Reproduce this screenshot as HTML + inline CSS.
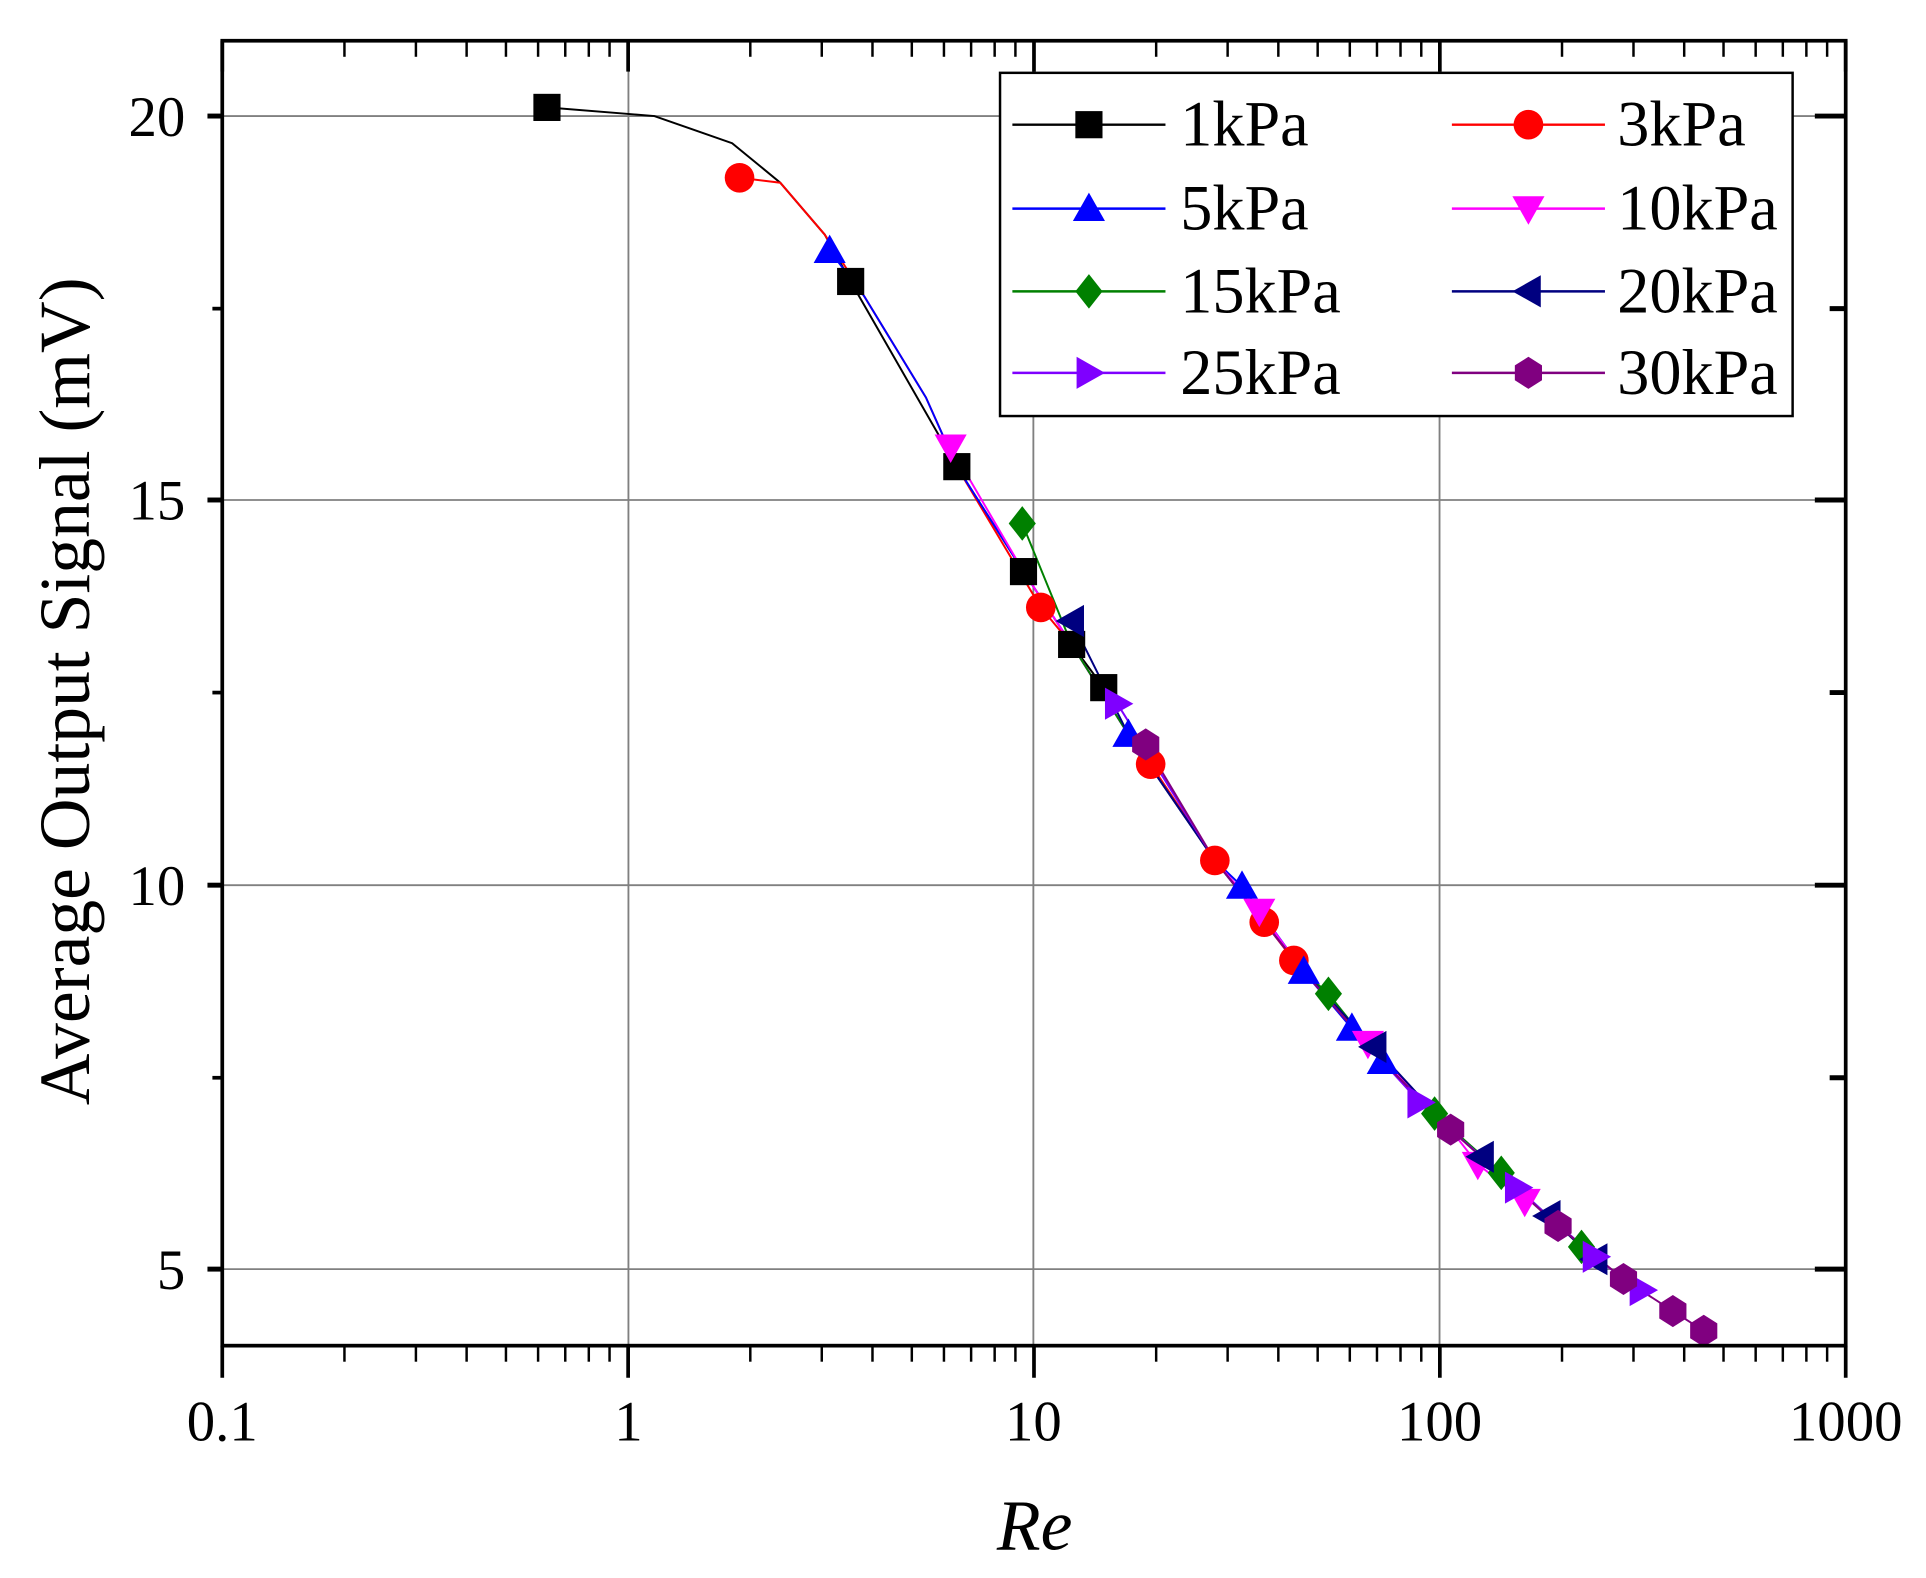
<!DOCTYPE html>
<html><head><meta charset="utf-8"><style>
html,body{margin:0;padding:0;background:#fff;}
svg{display:block;}
text{font-family:"Liberation Serif","Times New Roman",serif;fill:#000;}
</style></head><body>
<svg id="s" width="1926" height="1578" viewBox="0 0 1560 1278.2" xmlns="http://www.w3.org/2000/svg">
<g id="grid" stroke="#808080" stroke-width="1.5">
<line x1="509" y1="33" x2="509" y2="1090"/><line x1="837" y1="33" x2="837" y2="1090"/><line x1="1166" y1="33" x2="1166" y2="1090"/>
<line x1="180" y1="94" x2="1495" y2="94"/><line x1="180" y1="405" x2="1495" y2="405"/><line x1="180" y1="717" x2="1495" y2="717"/><line x1="180" y1="1028" x2="1495" y2="1028"/>
</g>
<g id="ticks" stroke="#000" stroke-width="3"></g>
<g id="series"></g>
<rect x="180" y="33" width="1315" height="1057" fill="none" stroke="#000" stroke-width="3"/>
<g font-size="46">
<text x="150" y="110" text-anchor="end">20</text>
<text x="150" y="421" text-anchor="end">15</text>
<text x="150" y="733" text-anchor="end">10</text>
<text x="150" y="1044" text-anchor="end">5</text>
<text x="180" y="1167" text-anchor="middle">0.1</text>
<text x="509" y="1167" text-anchor="middle">1</text>
<text x="837" y="1167" text-anchor="middle">10</text>
<text x="1166" y="1167" text-anchor="middle">100</text>
<text x="1495" y="1167" text-anchor="middle">1000</text>
</g>
<text x="838" y="1255" font-size="58" font-style="italic" text-anchor="middle">Re</text>
<text transform="translate(72,560) rotate(-90)" font-size="58" text-anchor="middle">Average Output Signal (mV)</text>
<rect x="810" y="59" width="642" height="278" fill="#fff" stroke="#000" stroke-width="2"/>
<g id="legend" font-size="52"></g>
</svg>
<script>
var NS="http://www.w3.org/2000/svg";
function el(p,t,a){var e=document.createElementNS(NS,t);for(var k in a)e.setAttribute(k,a[k]);p.appendChild(e);return e;}
var tk=document.getElementById('ticks');
for(var d=0;d<4;d++){for(var m=2;m<10;m++){var x=180+328.75*(d+Math.log10(m));
el(tk,'line',{x1:x,y1:1090,x2:x,y2:1103,'stroke-width':2});el(tk,'line',{x1:x,y1:33,x2:x,y2:46,'stroke-width':2});}}
for(var d=0;d<=4;d++){var x=180+328.75*d;el(tk,'line',{x1:x,y1:1090,x2:x,y2:1116});el(tk,'line',{x1:x,y1:33,x2:x,y2:58});}
[94,405,717,1028].forEach(function(y){el(tk,'line',{x1:1495,y1:y,x2:1470,y2:y,'stroke-width':4});el(tk,'line',{x1:180,y1:y,x2:168,y2:y,'stroke-width':4});});
[250,561,873].forEach(function(y){el(tk,'line',{x1:1495,y1:y,x2:1482,y2:y,'stroke-width':4});el(tk,'line',{x1:180,y1:y,x2:172,y2:y,'stroke-width':3});});
var master=[[530,94],[593,116],[632,148],[668,190],[700,240],[750,322],[775,378],[829,463],[868,522],[914,595],[984,697],[1056,787],[1120,860],[1175,915],[1254,985],[1315,1036],[1380,1078]];
var S=[
{n:'1kPa',c:'#000',m:'sq',p:[[443,87],[530,94],[593,116],[632,148],[668,190],[689,228],[775,378],[829,463],[868,522],[894,557]],raw:1},
{n:'3kPa',c:'#f00',m:'ci',p:[[599,144],[843,492],[932,619],[984,697],[1024,747],[1048,778]]},
{n:'5kPa',c:'#00f',m:'up',p:[[672,203],[914,595],[1006,718],[1056,787],[1095,833],[1120,860]]},
{n:'10kPa',c:'#f0f',m:'dn',p:[[770,362],[1020,738],[1108,845],[1197,943],[1235,973]]},
{n:'15kPa',c:'#008000',m:'di',p:[[828,424],[1076,805],[1162,902],[1216,950],[1281,1010]]},
{n:'20kPa',c:'#000080',m:'lt',p:[[868,503],[1113,848],[1200,937],[1254,985],[1292,1020]]},
{n:'25kPa',c:'#7f00ff',m:'rt',p:[[905,570],[1150,893],[1229,962],[1292,1018],[1330,1045]]},
{n:'30kPa',c:'#800080',m:'hx',p:[[928,603],[1175,915],[1262,993],[1315,1036],[1355,1062],[1380,1078]]}];
function mk(g,t,x,y,c){var r=11;
if(t=='sq')el(g,'rect',{x:x-r,y:y-r,width:2*r,height:2*r,fill:c});
else if(t=='ci')el(g,'circle',{cx:x,cy:y,r:r+1,fill:c});
else{var pts;
if(t=='up')pts=[[0,-13],[13,10],[-13,10]];
if(t=='dn')pts=[[0,13],[13,-10],[-13,-10]];
if(t=='lt')pts=[[-13,0],[10,-13],[10,13]];
if(t=='rt')pts=[[13,0],[-10,-13],[-10,13]];
if(t=='di')pts=[[0,-14],[11,0],[0,14],[-11,0]];
if(t=='hx')pts=[[0,-13],[11,-6],[11,6],[0,13],[-11,6],[-11,-6]];
el(g,'polygon',{points:pts.map(function(q){return (x+q[0])+','+(y+q[1]);}).join(' '),fill:c});}}
var sg=document.getElementById('series');
S.forEach(function(s){var pts=s.p.slice();
if(!s.raw){var a=pts[0][0],b=pts[pts.length-1][0];master.forEach(function(q){if(q[0]>a+5&&q[0]<b-5&&!pts.some(function(z){return Math.abs(z[0]-q[0])<15;}))pts.push(q);});pts.sort(function(u,v){return u[0]-v[0];});}
el(sg,'polyline',{points:pts.map(function(q){return q.join(',');}).join(' '),fill:'none',stroke:s.c,'stroke-width':1.6});});
S.forEach(function(s){var pts=s.p;if(s.raw)pts=[s.p[0]].concat(s.p.slice(5));pts.forEach(function(q){mk(sg,s.m,q[0],q[1],s.c);});});
var lg=document.getElementById('legend');
S.forEach(function(s,i){var col=i%2,row=Math.floor(i/2);var y=[101,169,236,302][row];
var x0=col?1176:820;el(lg,'line',{x1:x0,y1:y,x2:x0+124,y2:y,stroke:s.c,'stroke-width':2});mk(lg,s.m,x0+62,y,s.c);
var t=el(lg,'text',{x:col?1310:956,y:y+17});t.textContent=s.n;});
</script>
</body></html>
